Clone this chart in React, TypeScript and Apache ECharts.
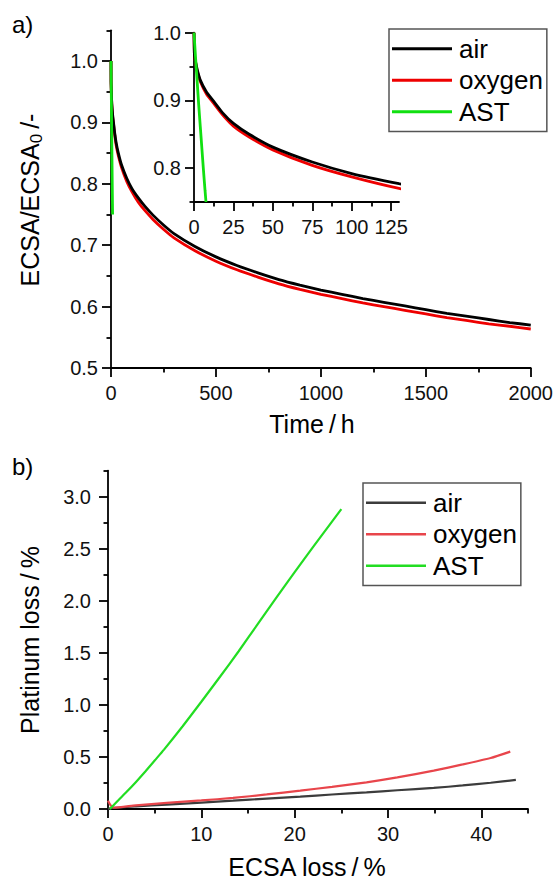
import React, { useEffect, useRef } from 'react';
import * as echarts from 'echarts';

// ---------- Data: panel a) ECSA/ECSA0 vs time ----------
const timeH = [0, 0.3, 1, 2, 4, 8, 12, 18, 25, 35, 50, 75, 100, 130, 160, 200, 250, 300, 400, 500, 600, 700, 800, 900, 1000, 1100, 1200, 1300, 1400, 1500, 1600, 1700, 1800, 1900, 2000];
const airECSA = [1.0, 0.966, 0.957, 0.946, 0.930, 0.912, 0.900, 0.882, 0.866, 0.850, 0.831, 0.809, 0.792, 0.777, 0.764, 0.749, 0.733, 0.719, 0.698, 0.681, 0.667, 0.655, 0.644, 0.635, 0.627, 0.620, 0.613, 0.607, 0.601, 0.595, 0.589, 0.584, 0.579, 0.574, 0.570];
const oxygenECSA = [1.0, 0.966, 0.956, 0.944, 0.928, 0.909, 0.897, 0.879, 0.862, 0.846, 0.827, 0.804, 0.787, 0.770, 0.757, 0.742, 0.726, 0.712, 0.691, 0.674, 0.660, 0.648, 0.637, 0.628, 0.620, 0.613, 0.606, 0.600, 0.594, 0.588, 0.582, 0.577, 0.572, 0.568, 0.5635];
const astTime = [0, 1, 2, 3, 4, 5, 6, 7, 7.6];
const astECSA = [1.0, 0.963, 0.928, 0.893, 0.861, 0.829, 0.797, 0.767, 0.75];

// ---------- Data: panel b) Platinum loss vs ECSA loss ----------
const airLossX = [0, 0.5, 3, 6.3, 10, 13.4, 17, 20.6, 24, 27.7, 31, 34.9, 38, 41, 43.7];
const airLossY = [0, 0.01, 0.025, 0.042, 0.062, 0.080, 0.100, 0.119, 0.139, 0.160, 0.180, 0.202, 0.226, 0.252, 0.279];
const oxygenLossX = [0, 0.25, 0.6, 3, 6.3, 10, 13.4, 17, 20.6, 24, 27.7, 31, 34.9, 38, 41, 43.1];
const oxygenLossY = [0.08, 0.04, 0.012, 0.035, 0.058, 0.082, 0.106, 0.14, 0.176, 0.213, 0.256, 0.303, 0.369, 0.428, 0.49, 0.551];
const astLossX = [0.2, 1, 2, 3, 4, 5, 6, 8, 10, 12, 14, 16, 18, 20, 22, 24, 25];
const astLossY = [0, 0.075, 0.165, 0.26, 0.36, 0.465, 0.57, 0.795, 1.03, 1.27, 1.515, 1.77, 2.025, 2.275, 2.52, 2.76, 2.88];

// ---------- Tick values ----------
const mainXTicks = [0, 500, 1000, 1500, 2000];
const mainXMinor = [250, 750, 1250, 1750];
const mainYTicks = [0.5, 0.6, 0.7, 0.8, 0.9, 1.0];
const mainYMinor = [0.55, 0.65, 0.75, 0.85, 0.95, 1.05];
const insetXTicks = [0, 25, 50, 75, 100, 125];
const insetXMinor = [12.5, 37.5, 62.5, 87.5, 112.5];
const insetYTicks = [0.8, 0.9, 1.0];
const insetYMinor = [0.75, 0.85, 0.95];
const lossXTicks = [0, 10, 20, 30, 40];
const lossXMinor = [5, 15, 25, 35, 45];
const platYTicks = [0, 0.5, 1.0, 1.5, 2.0, 2.5, 3.0];
const platYMinor = [0.25, 0.75, 1.25, 1.75, 2.25, 2.75, 3.25];

const seriesNames = ['air', 'oxygen', 'AST'];

const FONT = 'Liberation Sans, Arial, Helvetica, sans-serif';

function zip(xs: number[], ys: number[]) {
  return xs.map((x, i) => [x, ys[i]]);
}

function axisPair(
  dim: 'x' | 'y',
  gridIndex: number,
  min: number,
  max: number,
  interval: number,
  majors: number[],
  minors: number[],
  fmt: (v: number) => string,
  margin: number
) {
  const position = dim === 'x' ? 'bottom' : 'left';
  const common = {
    type: 'value',
    gridIndex,
    min,
    max,
    interval,
    position,
    offset: 0,
    splitLine: { show: false },
    minorTick: { show: false },
    minorSplitLine: { show: false },
  };
  const primary = {
    ...common,
    axisLine: { show: true, onZero: false, lineStyle: { color: '#000', width: 1.8 } },
    axisTick: { show: true, inside: false, length: 9, customValues: majors, lineStyle: { color: '#000', width: 1.8 } },
    axisLabel: {
      show: true,
      customValues: majors,
      formatter: (v: number) => fmt(v),
      margin,
      fontSize: 20,
      color: '#111',
      fontFamily: FONT,
      showMinLabel: true,
      showMaxLabel: true,
    },
  };
  const secondary = {
    ...common,
    axisLine: { show: false, onZero: false },
    axisTick: { show: true, inside: false, length: 4.5, customValues: minors, lineStyle: { color: '#000', width: 1.8 } },
    axisLabel: { show: false },
  };
  return [primary, secondary];
}

const f1 = (v: number) => v.toFixed(1);
const f0 = (v: number) => String(Math.round(v * 10) / 10);

export default function App() {
  const ref = useRef<HTMLDivElement>(null);

  useEffect(() => {
    document.body.style.margin = '0';
    if (!ref.current) return;
    const chart = echarts.init(ref.current, null, { renderer: 'svg' });

    const mainX = axisPair('x', 0, 0, 2000, 500, mainXTicks, mainXMinor, f0, 15);
    const mainY = axisPair('y', 0, 0.5, 1.05, 0.05, mainYTicks, mainYMinor, f1, 13);
    const insetX = axisPair('x', 1, 0, 130, 12.5, insetXTicks, insetXMinor, f0, 15);
    const insetY = axisPair('y', 1, 0.75, 1.0, 0.05, insetYTicks, insetYMinor, f1, 13);
    const lossX = axisPair('x', 2, 0, 45, 5, lossXTicks, lossXMinor, f0, 15);
    const platY = axisPair('y', 2, 0, 3.25, 0.25, platYTicks, platYMinor, f1, 17);

    const topColors = ['#000000', '#ee0000', '#11e011'];
    const botColors = ['#3c3c3c', '#e8454b', '#22dd22'];

    const lineSeries = (name: string, data: number[][], color: string, width: number, xi: number, yi: number, z: number) => ({
      type: 'line',
      name,
      data,
      xAxisIndex: xi,
      yAxisIndex: yi,
      symbol: 'none',
      showSymbol: false,
      smooth: 0.2,
      clip: true,
      z,
      lineStyle: { color, width },
      itemStyle: { color },
    });

    const legendBase = {
      orient: 'vertical',
      selectedMode: false,
      icon: 'rect',
      itemWidth: 60,
      itemHeight: 3,
      itemGap: 2,
      padding: [5, 4, 5, 3],
      borderColor: '#555',
      borderWidth: 1.5,
      backgroundColor: '#fff',
      textStyle: { fontSize: 26, lineHeight: 29.5, color: '#000', fontFamily: FONT, padding: [0, 0, 0, 2] },
    };

    chart.setOption({
      animation: false,
      textStyle: { fontFamily: FONT },
      grid: [
        { left: 111, top: 30.3, width: 420.7, height: 337.7 },
        { left: 194, top: 32.7, width: 205, height: 169.3 },
        { left: 108, top: 470.6, width: 420, height: 338.4 },
      ],
      xAxis: [...mainX, ...insetX, ...lossX],
      yAxis: [...mainY, ...insetY, ...platY],
      legend: [
        {
          ...legendBase,
          left: 389,
          top: 29,
          data: seriesNames.map((n, i) => ({ name: n, icon: 'rect', itemStyle: { color: topColors[i] } })),
        },
        {
          ...legendBase,
          left: 363,
          top: 483,
          itemHeight: 2.4,
          data: seriesNames.map((n, i) => ({ name: n, icon: 'rect', itemStyle: { color: botColors[i] } })),
        },
      ],
      series: [
        // panel a) main
        lineSeries('air', zip(timeH, airECSA), topColors[0], 2.8, 0, 0, 3),
        lineSeries('oxygen', zip(timeH, oxygenECSA), topColors[1], 2.8, 0, 0, 2),
        lineSeries('AST', zip(astTime, astECSA), topColors[2], 2.8, 0, 0, 4),
        // panel a) inset
        lineSeries('air', zip(timeH, airECSA), topColors[0], 2.8, 2, 2, 3),
        lineSeries('oxygen', zip(timeH, oxygenECSA), topColors[1], 2.8, 2, 2, 2),
        lineSeries('AST', zip(astTime, astECSA), topColors[2], 2.8, 2, 2, 4),
        // panel b)
        lineSeries('air', zip(airLossX, airLossY), botColors[0], 2.2, 4, 4, 2),
        lineSeries('oxygen', zip(oxygenLossX, oxygenLossY), botColors[1], 2.2, 4, 4, 3),
        lineSeries('AST', zip(astLossX, astLossY), botColors[2], 2.2, 4, 4, 4),
      ],
      graphic: [
        { type: 'text', left: 12, top: 12, style: { text: 'a)', fontSize: 24, fill: '#000', fontFamily: FONT } },
        { type: 'text', left: 12, top: 454, style: { text: 'b)', fontSize: 24, fill: '#000', fontFamily: FONT } },
        {
          type: 'text',
          x: 312,
          y: 424,
          style: { text: 'Time\u2009/\u2009h', fontSize: 25, fill: '#000', fontFamily: FONT, align: 'center', verticalAlign: 'middle' },
        },
        {
          type: 'text',
          x: 307,
          y: 867,
          style: { text: 'ECSA loss\u2009/\u2009%', fontSize: 25, fill: '#000', fontFamily: FONT, align: 'center', verticalAlign: 'middle' },
        },
        {
          type: 'text',
          x: 30,
          y: 640,
          rotation: Math.PI / 2,
          style: { text: 'Platinum loss\u2009/\u2009%', fontSize: 25, fill: '#000', fontFamily: FONT, align: 'center', verticalAlign: 'middle' },
        },
        {
          type: 'text',
          x: 30,
          y: 200,
          rotation: Math.PI / 2,
          style: {
            text: '{a|ECSA/ECSA}{s|0}{a|\u2009/-}',
            fontFamily: FONT,
            align: 'center',
            verticalAlign: 'middle',
            fill: '#000',
            rich: {
              a: { fontSize: 25, lineHeight: 30, fontFamily: FONT, fill: '#000' },
              s: { fontSize: 17, lineHeight: 12, verticalAlign: 'bottom', fontFamily: FONT, fill: '#000' },
            },
          },
        },
      ],
    });

    return () => {
      chart.dispose();
    };
  }, []);

  return <div ref={ref} style={{ position: 'absolute', left: 0, top: 0, width: 556, height: 880 }} />;
}
